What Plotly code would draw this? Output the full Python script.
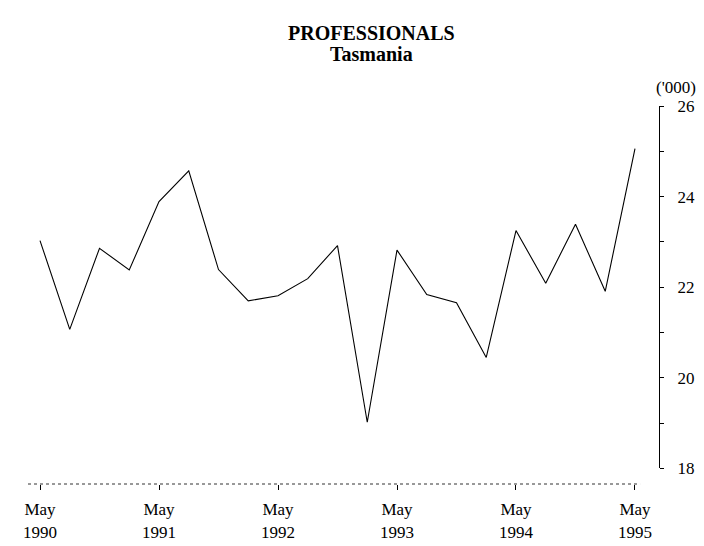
import plotly.graph_objects as go

quarters = [
    "May 1990", "Aug 1990", "Nov 1990", "Feb 1991",
    "May 1991", "Aug 1991", "Nov 1991", "Feb 1992",
    "May 1992", "Aug 1992", "Nov 1992", "Feb 1993",
    "May 1993", "Aug 1993", "Nov 1993", "Feb 1994",
    "May 1994", "Aug 1994", "Nov 1994", "Feb 1995",
    "May 1995",
]
employed_000 = [
    23.03, 21.07, 22.86, 22.38,
    23.89, 24.57, 22.39, 21.70,
    21.81, 22.19, 22.92, 19.02,
    22.82, 21.84, 21.66, 20.45,
    23.25, 22.09, 23.39, 21.91,
    25.06,
]
xtick_vals = ["May 1990", "May 1991", "May 1992", "May 1993", "May 1994", "May 1995"]
xtick_text = ["May<br>1990", "May<br>1991", "May<br>1992", "May<br>1993", "May<br>1994", "May<br>1995"]
ytick_vals = [18, 20, 22, 24, 26]

FONT = "Liberation Serif"

fig = go.Figure()
fig.add_trace(go.Scatter(
    x=quarters, y=employed_000, mode="lines",
    line=dict(color="black", width=1.1),
    showlegend=False, hoverinfo="skip",
))

fig.update_layout(
    width=704, height=546,
    margin=dict(l=20, r=53, t=98, b=59),
    paper_bgcolor="white", plot_bgcolor="white",
    font=dict(family=FONT, color="black", size=16),
    xaxis=dict(
        type="category", categoryorder="array", categoryarray=quarters,
        range=[-0.4034, 20.807],
        anchor="free", position=0,
        showline=False, showgrid=False, zeroline=False,
        tickmode="array", tickvals=xtick_vals, ticktext=xtick_text,
        ticks="outside", ticklen=5, tickcolor="black", tickwidth=1,
        ticklabelstandoff=5,
        tickfont=dict(family=FONT, size=17, color="black"),
    ),
    yaxis=dict(
        range=[18, 26], domain=[0.0411, 1],
        side="right", anchor="x",
        showline=True, linecolor="black", linewidth=1,
        showgrid=False, zeroline=False,
        tickmode="array", tickvals=ytick_vals,
        ticks="outside", ticklen=4, tickcolor="black", tickwidth=1,
        minor=dict(dtick=1, tick0=17, ticks="outside", ticklen=4, tickcolor="black", showgrid=False),
        ticklabelstandoff=10,
        tickfont=dict(family=FONT, size=17, color="black"),
    ),
    shapes=[dict(
        type="line", xref="paper", yref="paper",
        x0=0, x1=0.970, y0=0, y1=0,
        line=dict(color="#333333", width=1, dash="dot"),
    )],
    annotations=[
        dict(text="<b>PROFESSIONALS</b>", xref="paper", yref="paper",
             x=0.545, y=(487 - 23) / 389, xanchor="center", yanchor="middle",
             showarrow=False, font=dict(family=FONT, size=20, color="black")),
        dict(text="<b>Tasmania</b>", xref="paper", yref="paper",
             x=0.545, y=(487 - 44) / 389, xanchor="center", yanchor="middle",
             showarrow=False, font=dict(family=FONT, size=20, color="black")),
        dict(text="('000)", xref="paper", yref="paper",
             x=(668 - 20) / 631, y=(487 - 79) / 389, xanchor="center", yanchor="middle",
             showarrow=False, font=dict(family=FONT, size=17, color="black")),
    ],
)

fig.write_html("out.html")
